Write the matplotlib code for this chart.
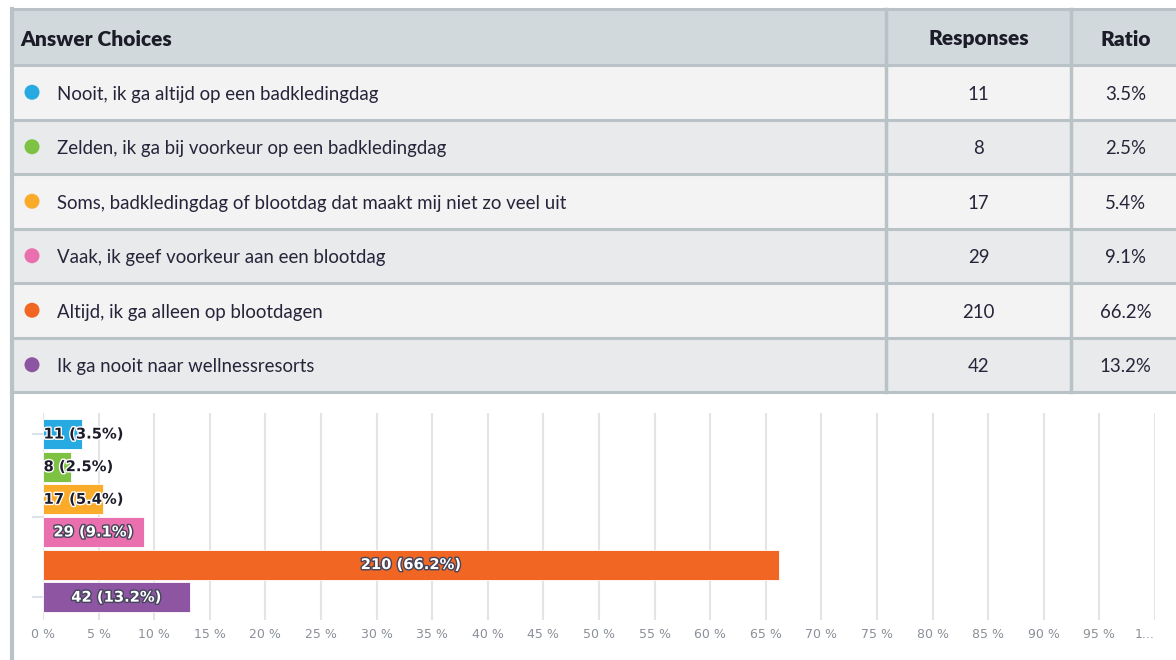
import matplotlib
matplotlib.use("Agg")
import matplotlib.pyplot as plt
import matplotlib.patheffects as pe
from matplotlib.patches import Rectangle, Circle

# ---- data ----
categories = [
    "Nooit, ik ga altijd op een badkledingdag",
    "Zelden, ik ga bij voorkeur op een badkledingdag",
    "Soms, badkledingdag of blootdag dat maakt mij niet zo veel uit",
    "Vaak, ik geef voorkeur aan een blootdag",
    "Altijd, ik ga alleen op blootdagen",
    "Ik ga nooit naar wellnessresorts",
]
responses = [11, 8, 17, 29, 210, 42]
ratios = [3.5, 2.5, 5.4, 9.1, 66.2, 13.2]
colors = ["#27a9e1", "#7dc242", "#fbab2a", "#ea6fae", "#f26624", "#8d55a2"]
header = ["Answer Choices", "Responses", "Ratio"]
xticks = list(range(0, 101, 5))
xtick_labels = [f"{t} %" for t in xticks[:-1]] + ["1..."]

plt.rcParams["font.family"] = ["Lato", "DejaVu Sans"]

W, H = 1176, 660
fig = plt.figure(figsize=(W / 100, H / 100), dpi=100)
fig.patch.set_facecolor("white")

# ---- table (pixel coordinates) ----
tab = fig.add_axes([0, 0, 1, 1])
tab.set_xlim(0, W)
tab.set_ylim(H, 0)
tab.axis("off")

border = "#b9c3c7"
x0, x1 = 12, W + 5
col1, col2 = 886, 1071
hdr_top, hdr_bot = 9, 65
row_h = (392 - 65) / len(categories)
txt = "#27243a"

tab.add_patch(Rectangle((x0, hdr_top), x1 - x0, hdr_bot - hdr_top,
                        facecolor="#d1d9dc", edgecolor="none"))
hy = (hdr_top + hdr_bot) / 2 + 2
hkw = dict(fontsize=15, fontweight="heavy", color="#1c1c28", va="center")
tab.text(20, hy, header[0], ha="left", **hkw)
tab.text((col1 + col2) / 2, hy, header[1], ha="center", **hkw)
tab.text((col2 + 1176) / 2 + 2, hy, header[2], ha="center", **hkw)

for i, (cat, r, p, c) in enumerate(zip(categories, responses, ratios, colors)):
    top = hdr_bot + i * row_h
    fc = "#f3f3f3" if i % 2 == 0 else "#e8eaeb"
    tab.add_patch(Rectangle((x0, top), x1 - x0, row_h, facecolor=fc, edgecolor="none"))
    yc = top + row_h / 2 + 2
    tab.add_patch(Circle((32, yc - 2), 7.5, facecolor=c, edgecolor="none"))
    tab.text(57, yc, cat, fontsize=13.4, color=txt, va="center", ha="left")
    tab.text((col1 + col2) / 2, yc, str(r), fontsize=13.4, color=txt,
             va="center", ha="center")
    tab.text((col2 + 1176) / 2 + 2, yc, f"{p}%", fontsize=13.4, color=txt,
             va="center", ha="center")
    tab.plot([x0, x1], [top, top], color=border, lw=2.2, solid_capstyle="butt")

tab.plot([x0, x1], [hdr_top, hdr_top], color=border, lw=2.2)
tab.plot([x0, x1], [392, 392], color=border, lw=2.2)
tab.plot([x0, x0], [hdr_top, H], color=border, lw=3)
for cx in (col1, col2):
    tab.plot([cx, cx], [hdr_top, 392], color=border, lw=2.5)

# ---- bar chart ----
ax_left, ax_right, ax_top, ax_bot = 43, 1155, 413, 620
ax = fig.add_axes([ax_left / W, (H - ax_bot) / H, (ax_right - ax_left) / W,
                   (ax_bot - ax_top) / H])
ax.set_facecolor("none")
ypos = list(range(len(categories)))
ax.barh(ypos, ratios, height=0.92, color=colors, edgecolor="white", linewidth=0.6,
        zorder=3)
ax.set_xlim(0, 100)
ax.set_ylim(5.7, -0.644)
ax.set_xticks(xticks)
tl = ax.set_xticklabels(xtick_labels, fontsize=9, color="#8a9097", family="DejaVu Sans")
tl[-1].set_horizontalalignment("right")
ax.tick_params(axis="x", length=0, pad=6)
ax.set_yticks([0, 2.55, 5])
ax.set_yticklabels([])
ax.tick_params(axis="y", length=8, color="#d6dde6", width=1.2, pad=0)
ax.grid(axis="x", color="#e4e4e4", lw=1.5, zorder=0)
for s in ax.spines.values():
    s.set_visible(False)

for y, r, p in zip(ypos, responses, ratios):
    lbl = f"{r} ({p}%)"
    if p < 8:
        ax.text(0.05, y, lbl, fontsize=10.6, fontweight="bold", color="#1c1c2a",
                va="center", ha="left", zorder=5, family="DejaVu Sans",
                path_effects=[pe.withStroke(linewidth=2, foreground="white")])
    else:
        ax.text(p / 2, y, lbl, fontsize=10.6, fontweight="bold", color="white",
                va="center", ha="center", zorder=5, family="DejaVu Sans",
                path_effects=[pe.withStroke(linewidth=2, foreground="#44445a")])

fig.savefig("out.png", dpi=100, facecolor="white")
